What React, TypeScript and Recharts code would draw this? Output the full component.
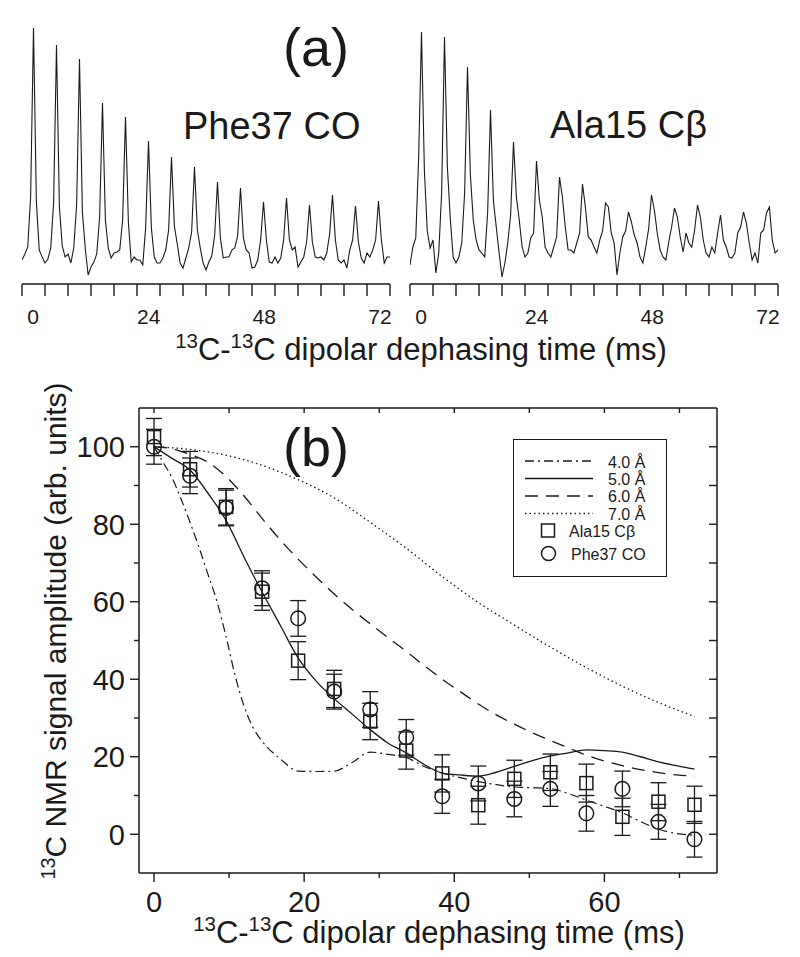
import React from 'react';
import { LineChart, Line, XAxis, YAxis, ComposedChart, Scatter, ErrorBar, Legend } from 'recharts';

const FONT = '"Liberation Sans", Arial, Helvetica, sans-serif';
const INK = '#1a1a1a';

// ---- panel (a): one slice of spectrum per 4.5 ms, 8 samples per slice ----
const SLICE_MS = 4.5;
const SAMPLES_PER_SLICE = 8;
const SPEC_TICKS = [0, 4.5, 9, 13.5, 18, 22.5, 27, 31.5, 36, 40.5, 45, 49.5, 54, 58.5, 63, 67.5, 72];
const SPEC_LABELS = [0, 24, 48, 72];

// intensity above baseline (arb.)
const PHE37_CO = [
  2, 8, 15, 65, 234, 60, 12, 5,
  -1, 3, 14, 60, 217, 55, 16, 5,
  8, -1, 14, 57, 203, 50, 14, -13,
  -5, 0, 8, 45, 159, 42, 14, 4,
  9, 10, 12, 42, 145, 40, 0, 5,
  2, 2, -3, 34, 121, 34, 5, -1,
  -1, 4, 12, 32, 105, 36, 18, -1,
  -6, 4, 14, 30, 95, 32, 14, -1,
  -8, 0, 6, 26, 80, 24, 4, 5,
  5, 12, 14, 26, 74, 24, 12, 9,
  -6, -5, 2, 22, 60, 22, 0, -1,
  5, -1, 4, 22, 64, 22, 12, 15,
  -5, 0, 5, 20, 57, 20, 5, 4,
  5, 2, 9, 28, 67, 22, 2, -1,
  2, -6, 12, 22, 56, 20, 4, -1,
  9, 5, 12, 22, 61, 22, -1, 5,
  5,
];

const ALA15_CB = [
  -12, 6, 15, 95, 221, 83, 22, 5,
  13, -20, 0, 60, 216, 86, 35, -4,
  -10, -4, 10, 60, 186, 78, 33, 13,
  3, 0, -4, 40, 143, 53, 26, 0,
  -24, -10, 10, 38, 111, 56, 33, 6,
  -4, 0, 15, 20, 92, 53, 36, 6,
  0, -4, 6, 16, 76, 56, 26, 3,
  3, 0, 10, 20, 69, 46, 16, 13,
  6, 0, 13, 22, 50, 46, 20, 10,
  -22, 0, 16, 22, 41, 31, 18, 10,
  -4, -10, 6, 24, 58, 43, 20, 3,
  -4, -7, 11, 26, 45, 36, 16, 1,
  20, 10, 6, 23, 48, 36, 13, 0,
  -4, 6, 0, 20, 38, 13, 6, -4,
  -5, 0, 20, 26, 41, 30, 10, -7,
  0, -10, 20, 23, 40, 46, 13, 0,
  3,
];

// ---- panel (b) ----
const B_XTICKS = [0, 10, 20, 30, 40, 50, 60, 70];
const B_YTICKS = [0, 10, 20, 30, 40, 50, 60, 70, 80, 90, 100];

const T40 = [0, 1.2, 2.4, 3.6, 4.8, 6, 7.2, 8.4, 9.6, 10.8, 12, 13.2, 14.4, 16.8, 19.2, 21.6, 24, 26.4, 28.8, 31.2,
  33.6, 36, 38.4, 40.8, 43.2, 45.6, 48, 50.4, 52.8, 55.2, 57.6, 60, 62.4, 64.8, 67.2, 69.6, 72];
const Y40 = [100, 96, 92, 86.5, 80.5, 74, 67, 60, 51, 41, 33, 27.5, 24, 19.5, 16.3, 16.2, 16.3, 18.5, 21.2, 20.6,
  19.8, 17.5, 15.8, 14.6, 13.6, 12.8, 12.2, 12, 11.8, 10.5, 8.8, 7.2, 5.5, 3.3, 1.3, 0.2, -0.3];

const T_CURVE = [0, 2.4, 4.8, 7.2, 9.6, 12, 14.4, 16.8, 19.2, 21.6, 24, 26.4, 28.8, 31.2, 33.6, 36, 38.4, 40.8, 43.2,
  45.6, 48, 50.4, 52.8, 55.2, 57.6, 60, 62.4, 64.8, 67.2, 69.6, 72];
const Y50 = [100, 97, 94, 88, 81, 71.5, 62.5, 54, 45.5, 39.5, 35, 31, 27, 23.5, 21, 18, 15.8, 15.3, 15, 16, 17.5,
  19, 20.2, 21, 21.8, 21.6, 21.2, 20, 18.7, 17.7, 16.8];
const Y60 = [100, 99.5, 98, 96, 92.3, 87.3, 81.5, 76, 71, 66.4, 62, 58, 54.3, 50.7, 47.2, 43.5, 40, 36.8, 33.6, 30.8,
  28.4, 26.2, 24.2, 22.3, 20.4, 18.9, 17.7, 16.7, 15.9, 15.3, 15];

const T_DATA = [0, 4.8, 9.6, 14.4, 19.2, 24, 28.8, 33.6, 38.4, 43.2, 48, 52.8, 57.6, 62.4, 67.2, 72];
const Y70 = [100, 99.3, 97.8, 95.2, 91.5, 86.8, 80.5, 73.8, 66.5, 59.8, 54, 48.3, 43, 38.2, 34, 30.4];

const ALA_Y = [102.5, 94.2, 84.5, 62.6, 44.8, 37.5, 29.1, 21.6, 15.7, 7.5, 14.3, 16, 13.2, 4.5, 8.4, 7.6];
const ALA_ERR = [4.8, 4.6, 4.7, 4.8, 4.9, 4.8, 4.7, 4.8, 4.8, 4.9, 4.8, 4.7, 4.9, 4.8, 4.9, 4.8];
const PHE_Y = [100, 92.5, 84.2, 63.5, 55.7, 36.8, 32.2, 25, 9.8, 13.1, 9.1, 11.7, 5.4, 11.7, 3.2, -1.3];
const PHE_ERR = [4.5, 4.6, 4.6, 4.5, 4.6, 4.5, 4.6, 4.6, 4.4, 4.5, 4.6, 4.5, 4.6, 4.6, 4.5, 4.6];

const toSpectrum = (vals: number[]) => vals.map((v, i) => ({ t: (i * SLICE_MS) / SAMPLES_PER_SLICE, v }));
const toCurve = (ts: number[], ys: number[]) => ts.map((t, i) => ({ t, y: ys[i] }));
const toPoints = (ys: number[], errs: number[]) => T_DATA.map((t, i) => ({ t, y: ys[i], err: errs[i] }));

const AXIS = { stroke: INK, strokeWidth: 1.5 };

// tick marks drawn by hand so that the length can be set per tick / direction
const downTick = (len: number) => (p: any) => (
  <line x1={p.x} x2={p.x} y1={p.y} y2={p.y + len} stroke={INK} strokeWidth={1.4} />
);
const leftwardTick = (len: number) => (p: any) => (
  <line x1={p.x} x2={p.x - len} y1={p.y} y2={p.y} stroke={INK} strokeWidth={1.4} />
);

const Spectrum = ({ values, left, ml, mr, yDomain }: any) => (
  <div style={{ position: 'absolute', left, top: 0 }}>
    <LineChart width={400} height={336} data={toSpectrum(values)} margin={{ top: 4, right: mr, left: ml, bottom: 0 }}>
      <XAxis xAxisId="a1" dataKey="t" type="number" domain={[0, 72]} ticks={SPEC_TICKS} interval={0}
        tickLine={false} tickSize={0} tickMargin={0} tick={downTick(12)} height={12} axisLine={AXIS} allowDataOverflow />
      <XAxis xAxisId="a2" dataKey="t" type="number" domain={[-2.3, 74.1]} ticks={SPEC_LABELS} interval={0}
        axisLine={false} tickLine={false} tickSize={0} tickMargin={13} height={40} allowDataOverflow
        tick={{ fontSize: 21, fill: INK, fontFamily: FONT }} />
      <YAxis hide type="number" domain={yDomain} allowDataOverflow />
      <Line xAxisId="a1" dataKey="v" type="linear" stroke={INK} strokeWidth={1.1} dot={false} isAnimationActive={false} />
    </LineChart>
  </div>
);

const BottomTick = (props: any) => {
  const { x, y, payload } = props;
  const major = payload.value % 20 === 0;
  return (
    <g>
      <line x1={x} x2={x} y1={y} y2={y + (major ? 9 : 5)} stroke={INK} strokeWidth={1.4} />
      {major && (
        <text x={x} y={y + 39} textAnchor="middle" fontSize={29} fontFamily={FONT} fill={INK}>{payload.value}</text>
      )}
    </g>
  );
};

const LeftTick = (props: any) => {
  const { x, y, payload } = props;
  const major = payload.value % 20 === 0;
  return (
    <g>
      <line x1={x} x2={x - (major ? 9 : 5)} y1={y} y2={y} stroke={INK} strokeWidth={1.4} />
      {major && (
        <text x={x - 14} y={y + 10.5} textAnchor="end" fontSize={29} fontFamily={FONT} fill={INK}>{payload.value}</text>
      )}
    </g>
  );
};

const square = (p: any) => (
  <rect x={p.cx - 6.5} y={p.cy - 6.5} width={13} height={13} fill="none" stroke={INK} strokeWidth={1.5} />
);
const circle = (p: any) => <circle cx={p.cx} cy={p.cy} r={7.3} fill="none" stroke={INK} strokeWidth={1.5} />;

const LegendBox = () => (
  <div style={{ width: 154, height: 138, border: `1.5px solid ${INK}`, boxSizing: 'border-box', background: '#fff' }}>
    <svg width={151} height={135} style={{ display: 'block' }}>
      <g stroke={INK} strokeWidth={1.3}>
        <line x1={11} x2={79} y1={21} y2={21} strokeDasharray="9 4 2 4" />
        <line x1={11} x2={79} y1={38.5} y2={38.5} />
        <line x1={11} x2={79} y1={56} y2={56} strokeDasharray="13 8" />
        <line x1={11} x2={79} y1={73.5} y2={73.5} strokeDasharray="1.5 3" />
      </g>
      <rect x={27.5} y={84} width={13} height={13} fill="none" stroke={INK} strokeWidth={1.5} />
      <circle cx={34.5} cy={113.5} r={7} fill="none" stroke={INK} strokeWidth={1.5} />
      <g fontFamily={FONT} fontSize={16} fill={INK}>
        <text x={94} y={27.5}>4.0 Å</text>
        <text x={94} y={44.5}>5.0 Å</text>
        <text x={94} y={62}>6.0 Å</text>
        <text x={94} y={79.5}>7.0 Å</text>
        <text x={55} y={97}>Ala15 Cβ</text>
        <text x={57} y={120}>Phe37 CO</text>
      </g>
    </svg>
  </div>
);

const AxisTitle = ({ x, y, size, rotate }: any) => (
  <text x={x} y={y} textAnchor="middle" fontSize={size} fontFamily={FONT} fill={INK}
    transform={rotate ? `rotate(-90, ${x}, ${y})` : undefined}>
    {rotate ? (
      <>
        <tspan fontSize={size * 0.66} dy={-size * 0.38}>13</tspan>
        <tspan dy={size * 0.38}>C NMR signal amplitude (arb. units)</tspan>
      </>
    ) : (
      <>
        <tspan fontSize={size * 0.66} dy={-size * 0.38}>13</tspan>
        <tspan dy={size * 0.38}>C-</tspan>
        <tspan fontSize={size * 0.66} dy={-size * 0.38}>13</tspan>
        <tspan dy={size * 0.38}>C dipolar dephasing time (ms)</tspan>
      </>
    )}
  </text>
);

export default function App() {
  return (
    <div style={{ position: 'absolute', left: 0, top: 0, width: 800, height: 957, background: '#fff', fontFamily: FONT }}>
      <Spectrum values={PHE37_CO} left={0} ml={22} mr={10} yDomain={[-22, 258]} />
      <Spectrum values={ALA15_CB} left={400} ml={10} mr={22} yDomain={[-31, 249]} />

      <div style={{ position: 'absolute', left: 0, top: 380 }}>
        <ComposedChart width={800} height={577} margin={{ top: 28, right: 83, left: 59, bottom: 0 }}>
          <XAxis xAxisId="b" dataKey="t" type="number" domain={[-2, 75]} ticks={B_XTICKS} interval={0}
            tickLine={false} tickSize={0} tickMargin={0} tick={<BottomTick />} height={84} axisLine={AXIS} allowDataOverflow />
          <XAxis xAxisId="top" orientation="top" mirror dataKey="t" type="number" domain={[-2, 75]} ticks={B_XTICKS}
            interval={0} tickLine={false} tickSize={0} tickMargin={0} tick={downTick(5)} axisLine={AXIS} allowDataOverflow />
          <YAxis yAxisId="l" dataKey="y" type="number" domain={[-10, 110]} ticks={B_YTICKS} interval={0}
            tickLine={false} tickSize={0} tickMargin={0} tick={<LeftTick />} width={80} axisLine={AXIS} allowDataOverflow />
          <YAxis yAxisId="r" orientation="right" mirror dataKey="y" type="number" domain={[-10, 110]} ticks={B_YTICKS}
            interval={0} tickLine={false} tickSize={0} tickMargin={0} tick={leftwardTick(8)} axisLine={AXIS} allowDataOverflow />

          <Line xAxisId="b" yAxisId="l" data={toCurve(T40, Y40)} dataKey="y" type="monotone" stroke={INK}
            strokeWidth={1.2} strokeDasharray="9 4 2 4" dot={false} isAnimationActive={false} />
          <Line xAxisId="b" yAxisId="l" data={toCurve(T_CURVE, Y50)} dataKey="y" type="monotone" stroke={INK}
            strokeWidth={1.3} dot={false} isAnimationActive={false} />
          <Line xAxisId="b" yAxisId="l" data={toCurve(T_CURVE, Y60)} dataKey="y" type="monotone" stroke={INK}
            strokeWidth={1.3} strokeDasharray="13 8" dot={false} isAnimationActive={false} />
          <Line xAxisId="b" yAxisId="l" data={toCurve(T_DATA, Y70)} dataKey="y" type="monotone" stroke={INK}
            strokeWidth={1.3} strokeDasharray="1.5 3" dot={false} isAnimationActive={false} />

          <Scatter xAxisId="b" yAxisId="l" data={toPoints(ALA_Y, ALA_ERR)} dataKey="y" shape={square} isAnimationActive={false}>
            <ErrorBar dataKey="err" direction="y" width={8} stroke={INK} strokeWidth={1.3} isAnimationActive={false} />
          </Scatter>
          <Scatter xAxisId="b" yAxisId="l" data={toPoints(PHE_Y, PHE_ERR)} dataKey="y" shape={circle} isAnimationActive={false}>
            <ErrorBar dataKey="err" direction="y" width={8} stroke={INK} strokeWidth={1.3} isAnimationActive={false} />
          </Scatter>

          <Legend content={() => <LegendBox />} layout="vertical" align="center" verticalAlign="middle"
            wrapperStyle={{ left: 513, top: 59, width: 154, height: 138 }} />
        </ComposedChart>
      </div>

      <svg width={800} height={957} style={{ position: 'absolute', left: 0, top: 0, pointerEvents: 'none' }}>
        <g fontFamily={FONT} fill={INK}>
          <text x={316} y={66} textAnchor="middle" fontSize={54}>(a)</text>
          <text x={183} y={139} fontSize={38}>Phe37 CO</text>
          <text x={550} y={138} fontSize={38}>Ala15 Cβ</text>
          <text x={316} y={466} textAnchor="middle" fontSize={54}>(b)</text>
        </g>
        <AxisTitle x={421} y={360} size={31} />
        <AxisTitle x={439} y={943} size={31} />
        <AxisTitle x={66} y={631} size={30} rotate />
      </svg>
    </div>
  );
}
